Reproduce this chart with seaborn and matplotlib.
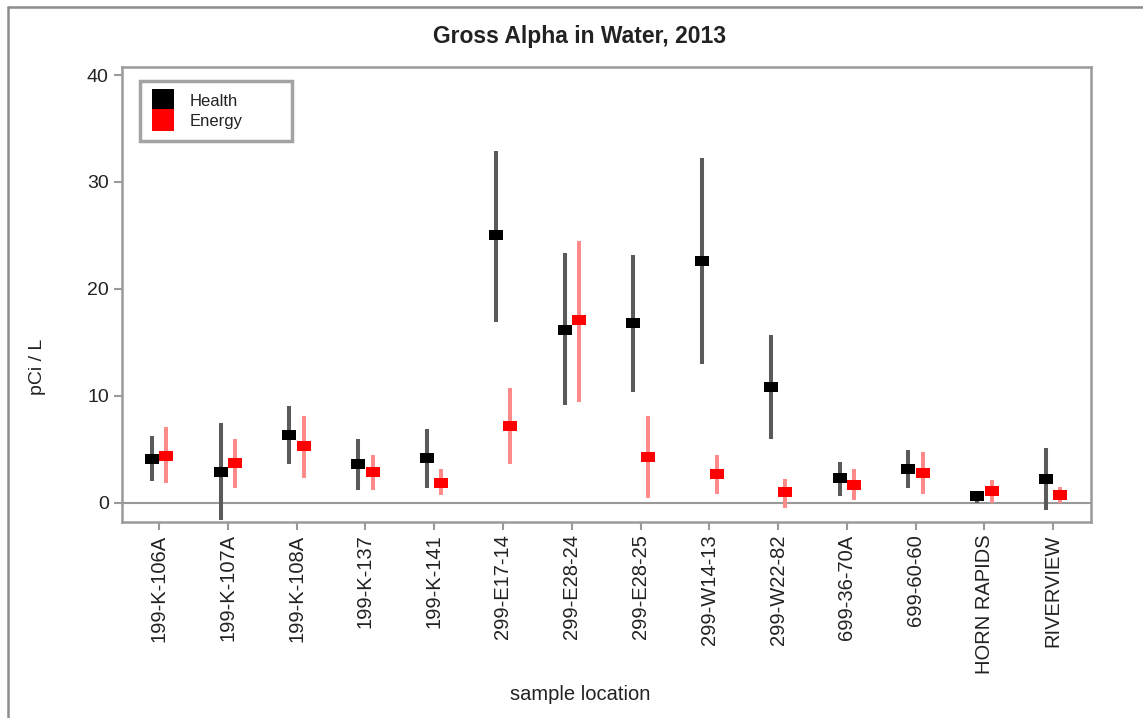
import pandas as pd
import numpy as np
import matplotlib
matplotlib.use("Agg")
import matplotlib.pyplot as plt
from matplotlib.lines import Line2D
import seaborn as sns

sns.set_theme(style="white")
plt.rcParams["font.family"] = ["Liberation Sans", "DejaVu Sans"]

# sample locations along the x axis
locations = ["199-K-106A", "199-K-107A", "199-K-108A", "199-K-137", "199-K-141",
             "299-E17-14", "299-E28-24", "299-E28-25", "299-W14-13", "299-W22-82",
             "699-36-70A", "699-60-60", "HORN RAPIDS", "RIVERVIEW"]

# Health results (value, lower and upper end of the uncertainty bar)
health = [4.1, 2.9, 6.3, 3.6, 4.2, 25.0, 16.2, 16.8, 22.6, 10.8, 2.3, 3.2, 0.6, 2.2]
health_lo = [2.0, -1.6, 3.6, 1.2, 1.4, 16.9, 9.1, 10.4, 13.0, 6.0, 0.6, 1.4, 0.0, -0.65]
health_hi = [6.2, 7.5, 9.0, 6.0, 6.9, 32.9, 23.4, 23.2, 32.2, 15.7, 3.8, 4.9, 1.1, 5.1]

# Energy results
energy = [4.4, 3.7, 5.3, 2.9, 1.8, 7.2, 17.1, 4.3, 2.7, 1.0, 1.7, 2.8, 1.1, 0.7]
energy_lo = [1.8, 1.4, 2.3, 1.2, 0.7, 3.6, 9.4, 0.4, 0.8, -0.5, 0.3, 0.8, 0.0, 0.0]
energy_hi = [7.1, 6.0, 8.1, 4.5, 3.2, 10.7, 24.5, 8.1, 4.5, 2.2, 3.2, 4.7, 2.1, 1.5]

groups = ["Health", "Energy"]
marker_colors = {"Health": "black", "Energy": "#ff0000"}
bar_black = "#5a5a5a"
bar_red = "#ff8a8a"

# long table: low / value / high per location and group.
# median of the three = value, 0-100 percentile interval = low..high
rows = []
for g, val, lo, hi in [("Health", health, health_lo, health_hi),
                       ("Energy", energy, energy_lo, energy_hi)]:
    for loc, v, l, h in zip(locations, val, lo, hi):
        for y in (l, v, h):
            rows.append({"location": loc, "group": g, "pci": y})
df = pd.DataFrame(rows)

fig = plt.figure(figsize=(11.43, 7.18), dpi=100)
ax = fig.add_axes([0.1067, 0.273, 0.8478, 0.6337])

rect = [(-1, -0.66), (1, -0.66), (1, 0.66), (-1, 0.66)]

sns.pointplot(data=df, x="location", y="pci", hue="group",
              order=locations, hue_order=groups, palette=marker_colors,
              estimator="median", errorbar=("pi", 100),
              dodge=0.21, linestyle="none", markers=[rect, rect],
              markersize=10, markeredgewidth=0, zorder=3,
              err_kws={"linewidth": 2.9, "zorder": 2, "solid_capstyle": "butt"},
              legend=False, ax=ax)

# lighter colour for the uncertainty bars
for line in ax.lines:
    if line.get_marker() in ("None", "", None):
        if matplotlib.colors.to_hex(line.get_color()) == "#000000":
            line.set_color(bar_black)
        else:
            line.set_color(bar_red)

ax.axhline(0, color="#999999", linewidth=1.5, zorder=1)

ax.set_xlim(-0.54, 13.55)
ax.set_ylim(-1.8, 40.75)
ax.set_yticks([0, 10, 20, 30, 40])

for s in ax.spines.values():
    s.set_color("#9a9a9a")
    s.set_linewidth(1.8)

ax.tick_params(axis="both", which="both", direction="out", length=6, width=1.5,
               color="#9a9a9a", labelsize=14, labelcolor="#222222",
               bottom=True, left=True)
ax.tick_params(axis="x", pad=3, labelsize=14.5)
plt.setp(ax.get_xticklabels(), rotation=90)

ax.set_xlabel("")
ax.set_ylabel("")
fig.text(38 / 1143, 1 - 367 / 718, "pCi / L", rotation=90, ha="center",
         va="center", fontsize=14, color="#222222")
fig.text(580 / 1143, 1 - 694 / 718, "sample location", ha="center",
         va="center", fontsize=14.5, color="#222222")
fig.text(580 / 1143, 1 - 36 / 718, "Gross Alpha in Water, 2013", ha="center",
         va="center", fontsize=16.5, fontweight="bold", color="#222222")

handles = [Line2D([], [], marker="s", linestyle="none", markersize=16.5,
                  color=marker_colors[g], markeredgewidth=0) for g in groups]
leg = ax.legend(handles, groups, loc="upper left",
                bbox_to_anchor=(0.0186, 0.0, 0.157, 0.969), mode="expand",
                borderaxespad=0, fontsize=12, frameon=True, fancybox=False,
                handlelength=1.3, handletextpad=0.9, labelspacing=0.3,
                borderpad=0.75)
leg.get_frame().set_edgecolor("#8c8c8c")
leg.get_frame().set_linewidth(2.5)
for t in leg.get_texts():
    t.set_color("#222222")

# figure border (left and top edges visible in the reference)
fig.add_artist(Line2D([8 / 1143, 8 / 1143], [0, 1 - 7 / 718],
                      transform=fig.transFigure, color="#8c8c8c", linewidth=1.8))
fig.add_artist(Line2D([8 / 1143, 1], [1 - 7 / 718, 1 - 7 / 718],
                      transform=fig.transFigure, color="#8c8c8c", linewidth=1.8))

fig.savefig("out.png", dpi=100)
plt.close()
